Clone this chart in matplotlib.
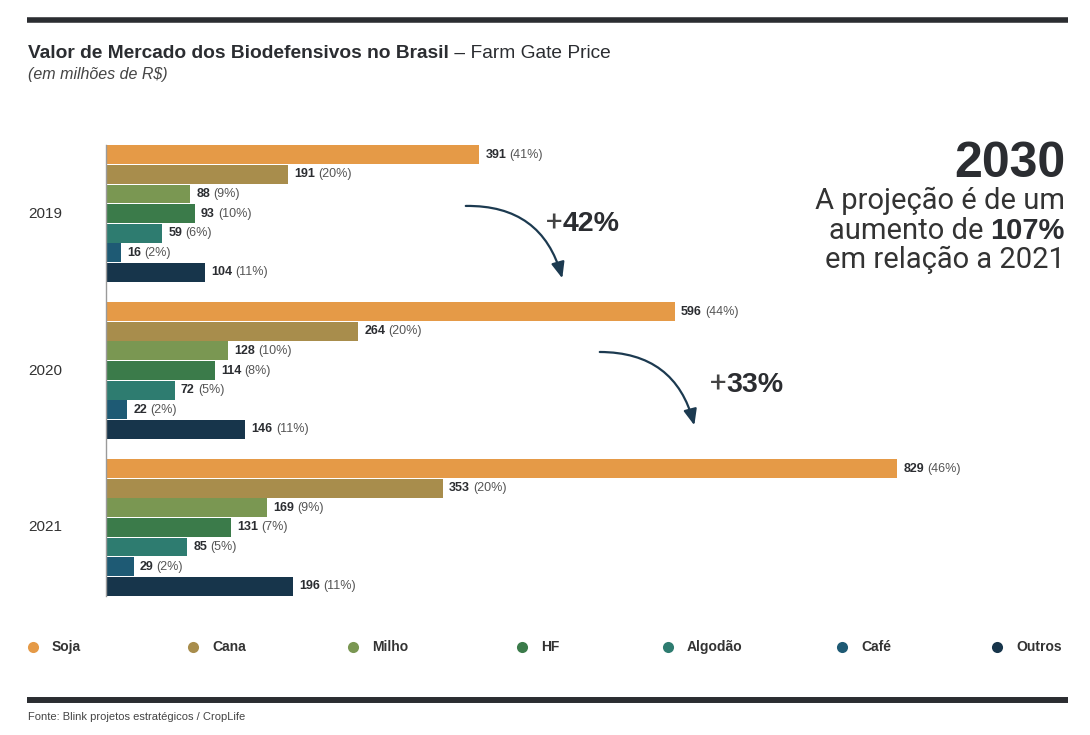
import matplotlib.pyplot as plt
from matplotlib.patches import FancyArrowPatch

# dados
anos = ['2019', '2020', '2021']
culturas = ['Soja', 'Cana', 'Milho', 'HF', 'Algodão', 'Café', 'Outros']
cores = ['#e59a47', '#a88d4c', '#7a9752', '#3b7b4a', '#2e7c70', '#1e5a74', '#17354b']
valores_2019 = [391, 191, 88, 93, 59, 16, 104]
valores_2020 = [596, 264, 128, 114, 72, 22, 146]
valores_2021 = [829, 353, 169, 131, 85, 29, 196]
pct_2019 = [41, 20, 9, 10, 6, 2, 11]
pct_2020 = [44, 20, 10, 8, 5, 2, 11]
pct_2021 = [46, 20, 9, 7, 5, 2, 11]
crescimento = ['42%', '33%']

valores = [valores_2019, valores_2020, valores_2021]
pcts = [pct_2019, pct_2020, pct_2021]

escuro = '#2b2d31'
cinza = '#555555'
fonte = 'Liberation Sans'
estreita = ['Liberation Sans Narrow', 'Liberation Sans']
leve = ['Roboto', 'Liberation Sans']

plt.rcParams['font.family'] = fonte

fig = plt.figure(figsize=(10.9, 7.35), dpi=100)

# camada em pixels para textos soltos
lax = fig.add_axes([0, 0, 1, 1])
lax.set_xlim(0, 1090)
lax.set_ylim(735, 0)
lax.axis('off')

ax = fig.add_axes([106 / 1090, 1 - 596 / 735, 962 / 1090, 451 / 735])
n = len(culturas)
for g in range(len(anos)):
    for i in range(n):
        y = g * (n + 1) + i
        v = valores[g][i]
        ax.barh(y, v, height=0.96, color=cores[i], edgecolor='none')
        t = ax.annotate(str(v), xy=(v, y), xytext=(4.5, 0), textcoords='offset points',
                        va='center', ha='left', fontsize=9, fontweight='bold',
                        color=escuro, family=estreita)
        ax.annotate('(%d%%)' % pcts[g][i], xy=(1, 0), xycoords=t, xytext=(2.2, 0),
                    textcoords='offset points', va='bottom', ha='left',
                    fontsize=9, color=cinza, family=estreita)
    ax.text(-0.081, g * (n + 1) + 3, anos[g], transform=ax.get_yaxis_transform(),
            va='center', ha='left', fontsize=11, color='#333333')

ax.set_ylim(n * 3 + 1.5, -0.5)
ax.set_xlim(0, 1008)
for s in ['top', 'right', 'bottom']:
    ax.spines[s].set_visible(False)
ax.spines['left'].set_color('#9a9a9a')
ax.spines['left'].set_linewidth(1)
ax.set_xticks([])
ax.set_yticks([])
ax.patch.set_visible(False)

# barras horizontais do topo e rodape
lax.plot([27, 1068], [19.5, 19.5], color=escuro, lw=4, solid_capstyle='butt')
lax.plot([27, 1068], [700, 700], color=escuro, lw=4.3, solid_capstyle='butt')

# titulo
tt = lax.text(28, 58, 'Valor de Mercado dos Biodefensivos no Brasil', fontsize=13.8,
              fontweight='bold', color=escuro, va='baseline')
lax.annotate(' – Farm Gate Price', xy=(1, 0), xycoords=tt, va='bottom', ha='left',
             fontsize=13.8, color=escuro)
lax.text(28, 79, '(em milhões de R$)', fontsize=11.5, style='italic', color='#444444',
         va='baseline')

# destaque 2030
lax.text(1065, 177, '2030', fontsize=36, fontweight='bold', color=escuro, ha='right',
         va='baseline')
lax.text(1065, 209, 'A projeção é de um', fontsize=21, color='#333333', ha='right',
         va='baseline', family=leve)
tb = lax.text(1065, 239, '107%', fontsize=21, fontweight='bold', color=escuro,
              ha='right', va='baseline')
lax.annotate('aumento de ', xy=(0, 0), xycoords=tb, va='bottom', ha='right',
             fontsize=21, color='#333333', family=leve)
lax.text(1065, 268, 'em relação a 2021', fontsize=21, color='#333333', ha='right',
         va='baseline', family=leve)

# setas de crescimento
setas = [((463, 206), (563, 281), (546, 231)), ((597, 352), (695, 428), (710, 392))]
for (p0, p1, pt), c in zip(setas, crescimento):
    a = FancyArrowPatch(p0, p1, connectionstyle='arc3,rad=-0.4',
                        arrowstyle='-|>,head_length=0.6,head_width=0.25',
                        mutation_scale=16, lw=1.6, color='#1c3a50')
    lax.add_patch(a)
    tp = lax.text(pt[0], pt[1], '+', fontsize=21, color='#444444', va='baseline',
                  family=leve)
    lax.annotate(c, xy=(1, 0), xycoords=tp, va='bottom', ha='left', fontsize=20.5,
                 fontweight='bold', color=escuro)

# legenda
leg_x = [33, 193, 353, 522, 668, 842, 997]
for x, nome, cor in zip(leg_x, culturas, cores):
    lax.plot(x, 647, 'o', ms=8, color=cor, mec='none')
    lax.text(x + 19, 647, nome, fontsize=10, fontweight='bold', color='#333333',
             va='center', ha='left', family=estreita)

lax.text(28, 717, 'Fonte: Blink projetos estratégicos / CropLife', fontsize=8,
         color='#444444', va='center')

fig.savefig('out.png', dpi=100)
